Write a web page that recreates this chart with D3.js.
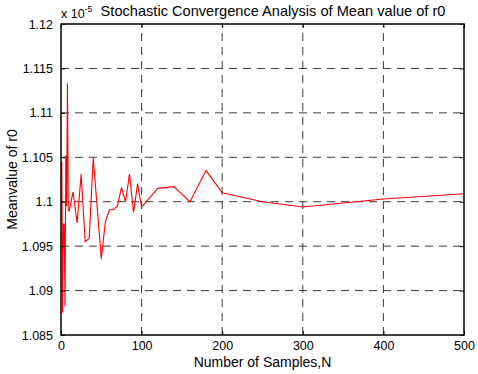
<!DOCTYPE html>
<html>
<head>
<meta charset="utf-8">
<script src="https://cdn.jsdelivr.net/npm/d3@7"></script>
<style>
  html, body { margin: 0; padding: 0; background: #fff; }
  svg { display: block; font-family: "Liberation Sans", Arial, Helvetica, sans-serif; }
</style>
</head>
<body>
<svg id="chart" width="478" height="374"></svg>
<script>
// Sample counts N and the running mean of r0 (values in units of 1e-5)
const samples = [1, 2, 3, 4, 5, 6, 7, 8, 9, 10, 15, 20, 25, 30, 35, 40, 50, 55, 60, 65,
                 70, 75, 80, 85, 90, 95, 100, 120, 140, 160, 180, 200, 250, 300, 400, 500];
const meanR0 = [1.1045, 1.0875, 1.0975, 1.0975, 1.0882, 1.1052, 1.0995, 1.1133, 1.0992, 1.0989,
                1.1011, 1.0976, 1.1031, 1.0955, 1.0959, 1.1049, 1.0936, 1.0977, 1.0991, 1.0991,
                1.0995, 1.1016, 1.1000, 1.1031, 1.0988, 1.1020, 1.0994, 1.1015, 1.1017, 1.1000,
                1.1035, 1.1010, 1.1000, 1.0994, 1.1003, 1.1009];
const xTicks = [0, 100, 200, 300, 400, 500];
const yTicks = [1.085, 1.09, 1.095, 1.1, 1.105, 1.11, 1.115, 1.12];
const yTickLabels = ["1.085", "1.09", "1.095", "1.1", "1.105", "1.11", "1.115", "1.12"];

const svg = d3.select("#chart");
const plotL = 61, plotR = 464, plotT = 24, plotB = 335;

const x = d3.scaleLinear().domain([0, 500]).range([plotL, plotR]);
const y = d3.scaleLinear().domain([1.085, 1.12]).range([plotB, plotT]);

// dashed grid
const grid = svg.append("g").attr("stroke", "#3a3a3a").attr("stroke-width", 1)
  .attr("stroke-dasharray", "8,6").attr("fill", "none");
xTicks.slice(1, -1).forEach(t => {
  grid.append("line").attr("x1", x(t)).attr("x2", x(t)).attr("y1", plotB).attr("y2", plotT);
});
yTicks.slice(1, -1).forEach(t => {
  grid.append("line").attr("x1", plotL).attr("x2", plotR).attr("y1", y(t)).attr("y2", y(t));
});

// data line
const line = d3.line().x((d, i) => x(samples[i])).y(d => y(d));
svg.append("path").datum(meanR0)
  .attr("d", line).attr("fill", "none").attr("stroke", "#ff0000").attr("stroke-width", 1.1)
  .attr("stroke-linejoin", "miter");

// axes with inward ticks on all four sides
const tickLen = 4;
const axB = d3.axisBottom(x).tickValues(xTicks).tickSizeInner(-tickLen).tickSizeOuter(0).tickPadding(6).tickFormat(d3.format("d"));
const axT = d3.axisTop(x).tickValues(xTicks).tickSizeInner(-tickLen).tickSizeOuter(0).tickFormat("");
const axL = d3.axisLeft(y).tickValues(yTicks).tickSizeInner(-tickLen).tickSizeOuter(0).tickPadding(8)
  .tickFormat((d, i) => yTickLabels[i]);
const axR = d3.axisRight(y).tickValues(yTicks).tickSizeInner(-tickLen).tickSizeOuter(0).tickFormat("");

function styleAxis(g) {
  g.select(".domain").remove();
  g.selectAll(".tick line").attr("stroke", "#000").attr("stroke-width", 1);
  g.selectAll(".tick text").attr("fill", "#000").attr("font-size", 12.5)
    .attr("font-family", "\"Liberation Sans\", Arial, sans-serif");
}
svg.append("g").attr("transform", `translate(0,${plotB})`).call(axB).call(styleAxis);
svg.append("g").attr("transform", `translate(0,${plotT})`).call(axT).call(styleAxis);
svg.append("g").attr("transform", `translate(${plotL},0)`).call(axL).call(styleAxis);
svg.append("g").attr("transform", `translate(${plotR},0)`).call(axR).call(styleAxis);

// box
svg.append("rect").attr("x", plotL).attr("y", plotT).attr("width", plotR - plotL).attr("height", plotB - plotT)
  .attr("fill", "none").attr("stroke", "#000").attr("stroke-width", 1.5);

// exponent marker
const expo = svg.append("text").attr("x", 61).attr("y", 18).attr("font-size", 12.5).attr("fill", "#000");
expo.append("tspan").text("x 10");
expo.append("tspan").attr("dy", -6).attr("font-size", 8.5).text("-5");

// title
svg.append("text").attr("x", 273).attr("y", 16).attr("text-anchor", "middle")
  .attr("font-size", 14.6).attr("fill", "#000")
  .text("Stochastic Convergence Analysis of Mean value of r0");

// axis labels
svg.append("text").attr("x", (plotL + plotR) / 2).attr("y", 367).attr("text-anchor", "middle")
  .attr("font-size", 14).attr("fill", "#000").text("Number of Samples,N");
svg.append("text").attr("transform", `translate(17,${(plotT + plotB) / 2}) rotate(-90)`)
  .attr("text-anchor", "middle").attr("font-size", 14).attr("fill", "#000").text("Meanvalue of r0");
</script>
</body>
</html>
